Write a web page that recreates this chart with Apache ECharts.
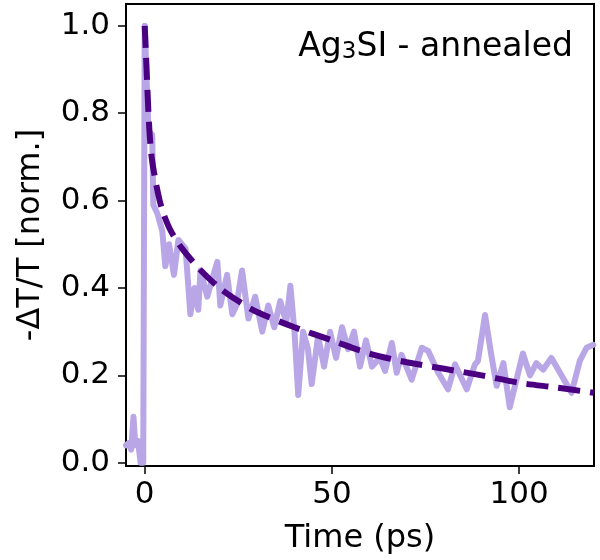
<!DOCTYPE html>
<html>
<head>
<meta charset="utf-8">
<script src="https://cdn.jsdelivr.net/npm/echarts@6/dist/echarts.min.js"></script>
<style>html,body{margin:0;padding:0;background:#fff}#c{width:600px;height:560px}</style>
</head>
<body>
<div id="c"></div>
<script>
// Measured signal (light line)
var sigTime = [-5, -4.3, -3.6, -3.0, -2.5, -1.8, -1.1, -0.4, 0, 1.0, 2.0, 2.3, 3.4, 4.7, 5.5, 6.5, 7.8, 9, 10.9, 12.2, 13.3, 14.3, 14.9, 16.7, 18, 19.4, 20.2, 22, 23.4, 24.5, 26, 27.7, 29.5, 31.4, 33, 34.6, 36.2, 37.8, 38.9, 40, 41, 42.3, 43.6, 44.6, 46.3, 47.9, 49.5, 51.1, 52.7, 54.3, 55.9, 57.5, 59.1, 60.7, 62.8, 64.2, 66, 67.3, 68.6, 71.3, 74, 75.7, 78.4, 81, 82.9, 86, 88.2, 89, 90.9, 92.6, 94, 95.8, 97.5, 101, 102.9, 104.6, 106.4, 108.6, 114, 116.2, 118, 119.8];
var sigValue = [0.04, 0.045, 0.03, 0.105, 0.04, 0.05, 0.0, 0.0, 1.0, 0.76, 0.75, 0.59, 0.57, 0.53, 0.45, 0.50, 0.43, 0.51, 0.49, 0.34, 0.40, 0.35, 0.44, 0.38, 0.42, 0.46, 0.36, 0.43, 0.34, 0.36, 0.44, 0.33, 0.38, 0.30, 0.36, 0.31, 0.37, 0.32, 0.405, 0.30, 0.155, 0.30, 0.26, 0.18, 0.29, 0.22, 0.30, 0.24, 0.31, 0.26, 0.30, 0.22, 0.28, 0.22, 0.24, 0.21, 0.274, 0.206, 0.247, 0.19, 0.263, 0.256, 0.206, 0.168, 0.225, 0.168, 0.225, 0.233, 0.338, 0.245, 0.176, 0.228, 0.127, 0.25, 0.2, 0.228, 0.213, 0.24, 0.16, 0.233, 0.263, 0.27];
// Fit (dashed line)
var fitTime = [0, 0.5, 1, 1.5, 2, 3, 4, 5, 7, 10, 15, 20, 25, 30, 40, 50, 60, 70, 80, 90, 100, 110, 120];
var fitValue = [1.0, 0.90, 0.80, 0.73, 0.69, 0.64, 0.60, 0.57, 0.53, 0.49, 0.44, 0.40, 0.37, 0.345, 0.31, 0.28, 0.25, 0.23, 0.215, 0.20, 0.183, 0.172, 0.16];
var xTicks = [0, 50, 100];
var yTicks = [0, 0.2, 0.4, 0.6, 0.8, 1.0];

function pairs(a, b) { return a.map(function (v, i) { return [v, b[i]]; }); }

var FONT = 'DejaVu Sans';
var chart = echarts.init(document.getElementById('c'), null, { renderer: 'canvas' });
chart.setOption({
  animation: false,
  backgroundColor: '#ffffff',
  title: {
    text: 'Ag{sub|3}SI - annealed',
    right: 22, top: 26,
    textStyle: {
      fontFamily: FONT, fontSize: 33, fontWeight: 'normal', color: '#000',
      rich: {
        sub: { fontFamily: FONT, fontSize: 23, color: '#000', verticalAlign: 'bottom', padding: [14, 0, 0, 0], lineHeight: 23 }
      }
    }
  },
  grid: {
    left: 126, right: 6, top: 4, bottom: 91,
    show: true, borderColor: '#000', borderWidth: 2, backgroundColor: 'transparent'
  },
  xAxis: {
    type: 'value', min: -5, max: 120,
    name: 'Time (ps)', nameLocation: 'middle', nameGap: 57,
    nameTextStyle: { fontFamily: FONT, fontSize: 32, color: '#000' },
    axisLine: { show: true, onZero: false, lineStyle: { color: '#000', width: 2 } },
    axisTick: { show: true, inside: false, length: 8, lineStyle: { color: '#000', width: 1.5 }, customValues: xTicks },
    axisLabel: { fontFamily: FONT, fontSize: 31, color: '#000', margin: 13, customValues: xTicks },
    splitLine: { show: false }
  },
  yAxis: {
    type: 'value', min: -0.0075, max: 1.05,
    name: '-ΔT/T [norm.]', nameLocation: 'middle', nameGap: 79, nameRotate: 90,
    nameTextStyle: { fontFamily: FONT, fontSize: 32, color: '#000' },
    axisLine: { show: true, onZero: false, lineStyle: { color: '#000', width: 2 } },
    axisTick: { show: true, inside: false, length: 8, lineStyle: { color: '#000', width: 1.5 }, customValues: yTicks },
    axisLabel: { fontFamily: FONT, fontSize: 31, color: '#000', margin: 16, customValues: yTicks,
      formatter: function (v) { return v.toFixed(1); } },
    splitLine: { show: false }
  },
  series: [
    {
      type: 'line', data: pairs(sigTime, sigValue), showSymbol: false, symbol: 'none',
      lineStyle: { color: '#b9a6e6', width: 6, join: 'round', cap: 'round' },
      clip: true, z: 2
    },
    {
      type: 'line', data: pairs(fitTime, fitValue), showSymbol: false, symbol: 'none', smooth: 0.3,
      lineStyle: { color: '#4b0082', width: 6, type: [22, 10] },
      clip: true, z: 3
    }
  ]
});
</script>
</body>
</html>
